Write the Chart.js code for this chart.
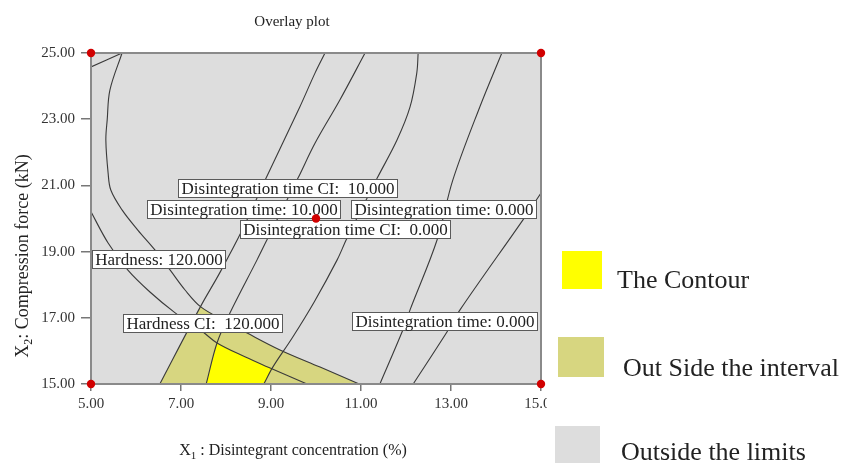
<!DOCTYPE html>
<html>
<head>
<meta charset="utf-8">
<script src="https://cdn.jsdelivr.net/npm/chart.js@4.4.1/dist/chart.umd.min.js"></script>
<style>
  html, body { margin: 0; padding: 0; background: #fff; }
  #wrap { width: 847px; height: 463px; position: relative; }
</style>
</head>
<body>
<div id="wrap"><canvas id="overlay"></canvas></div>
<script>
// Factor ranges (X1 disintegrant %, X2 compression force kN)
const xRange = [5, 15];
const yRange = [15, 25];
const tickStep = 2;

// Design points: factorial corners and centre point
const designX = [5, 15, 5, 15, 10];
const designY = [25, 25, 15, 15, 20];

// Contour lines as [X1, X2] pairs
const hardnessCorner = [[5.0, 24.58], [5.69, 25]];
const hardness120 = [[5.69, 25], [5.42, 23.88], [5.36, 22.98], [5.33, 22.37], [5.38, 21.38], [5.44, 20.86],
  [5.69, 20.26], [6.04, 19.65], [6.42, 19.05], [6.76, 18.44], [7.09, 17.84], [7.44, 17.33], [7.98, 16.90],
  [8.47, 16.54], [9.20, 16.03], [10.09, 15.51], [10.96, 15]];
const hardnessCI120 = [[5.0, 20.20], [5.38, 19.26], [5.82, 18.44], [6.31, 17.78], [6.87, 17.15], [7.49, 16.57],
  [7.80, 16.24], [8.42, 15.82], [8.98, 15.48], [9.80, 15]];
const disintegration10 = [[10.2, 25], [9.98, 24.40], [9.64, 23.37], [8.87, 21.16], [8.36, 19.65], [7.87, 18.38],
  [7.43, 17.33], [6.53, 15]];
const disintegrationCI10 = [[11.09, 25], [10.53, 23.58], [9.98, 22.28], [9.60, 21.22], [8.93, 19.41], [8.69, 18.75],
  [8.09, 17.15], [7.80, 16.24], [7.56, 15]];
const disintegrationCI0 = [[12.27, 25], [12.24, 24.40], [12.09, 23.37], [11.80, 22.37], [11.36, 21.22], [10.69, 19.41],
  [10.47, 18.75], [9.96, 17.48], [9.47, 16.39], [9.04, 15.51], [8.84, 15]];
const disintegration0 = [[14.13, 25], [13.64, 23.37], [13.04, 21.16], [12.69, 19.35], [12.09, 17.24], [11.93, 16.63],
  [11.42, 15]];
const disintegration0b = [[15, 20.77], [14.60, 19.96], [13.20, 17.24], [12.91, 16.57], [12.16, 15]];

// Shaded regions
const intervalRegion = [[6.53, 15], [7.43, 17.33], [7.98, 16.90], [8.47, 16.54], [9.20, 16.03], [10.09, 15.51],
  [10.96, 15], [6.53, 15]];
const contourRegion = [[7.56, 15], [7.80, 16.24], [8.42, 15.82], [9.02, 15.46], [8.84, 15], [7.56, 15]];

// Contour value labels placed on their lines
const contourLabels = [
  { text: 'Disintegration time CI:  10.000', x: 9.378, y: 20.906 },
  { text: 'Disintegration time: 10.000', x: 8.411, y: 20.287 },
  { text: 'Disintegration time: 0.000', x: 12.844, y: 20.287 },
  { text: 'Disintegration time CI:  0.000', x: 10.656, y: 19.668 },
  { text: 'Hardness: 120.000', x: 6.522, y: 18.776 },
  { text: 'Hardness CI:  120.000', x: 7.478, y: 16.813 },
  { text: 'Disintegration time: 0.000', x: 12.867, y: 16.888 }
];

const legendNames = ['The Contour', 'Out Side the interval', 'Outside the limits'];

const SERIF = '"Liberation Serif", "Times New Roman", serif';
const COL_LIMITS = 'rgb(221,221,221)';
const COL_INTERVAL = 'rgb(215,214,128)';
const COL_CONTOUR = '#ffff00';
const legendColors = [COL_CONTOUR, COL_INTERVAL, COL_LIMITS];

const pts = arr => arr.map(([x, y]) => ({ x, y }));
const contourLine = (label, arr) => ({
  label, data: pts(arr), borderColor: '#3a3a3a', borderWidth: 1.1,
  pointRadius: 0, tension: 0.35, fill: false
});
const region = (label, arr, color) => ({
  label, data: pts(arr), fill: 'shape', backgroundColor: color,
  borderColor: 'rgba(0,0,0,0)', borderWidth: 0, pointRadius: 0, tension: 0
});

// Draws text with subscript segments, centred on (cx, y)
function drawSubscripted(ctx, parts, cx, y, size) {
  const fontFor = p => `${p.sub ? Math.round(size * 0.68) : size}px ${SERIF}`;
  let total = 0;
  parts.forEach(p => { ctx.font = fontFor(p); total += ctx.measureText(p.t).width; });
  let x = cx - total / 2;
  ctx.textAlign = 'left';
  ctx.textBaseline = 'alphabetic';
  parts.forEach(p => {
    ctx.font = fontFor(p);
    ctx.fillText(p.t, x, p.sub ? y + size * 0.22 : y);
    x += ctx.measureText(p.t).width;
  });
}

const overlayDecor = {
  id: 'overlayDecor',
  beforeDraw(chart) {
    const { ctx, chartArea: a } = chart;
    ctx.save();
    ctx.fillStyle = '#fff';
    ctx.fillRect(0, 0, chart.width, chart.height);
    ctx.fillStyle = COL_LIMITS;
    ctx.fillRect(a.left, a.top, a.right - a.left, a.bottom - a.top);
    ctx.restore();
  },
  afterDatasetDraw(chart, args) {
    if (args.index !== 1) return;
    const { ctx, chartArea: a } = chart;
    const xs = chart.scales.x, ys = chart.scales.y;
    ctx.save();
    // plot frame
    ctx.strokeStyle = '#8a8a8a';
    ctx.lineWidth = 2;
    ctx.strokeRect(a.left, a.top, a.right - a.left, a.bottom - a.top);
    // contour labels
    ctx.font = `17px ${SERIF}`;
    ctx.textAlign = 'center';
    ctx.textBaseline = 'middle';
    contourLabels.forEach(L => {
      const cx = xs.getPixelForValue(L.x), cy = ys.getPixelForValue(L.y);
      const w = Math.round(ctx.measureText(L.text).width + 7), h = 19;
      const left = Math.round(cx - w / 2), top = Math.round(cy - h / 2);
      ctx.fillStyle = '#fff';
      ctx.fillRect(left, top, w, h);
      ctx.strokeStyle = '#5a5a5a';
      ctx.lineWidth = 1;
      ctx.strokeRect(left + 0.5, top + 0.5, w - 1, h - 1);
      ctx.fillStyle = '#222';
      ctx.fillText(L.text, left + w / 2, top + h / 2 + 1);
    });
    ctx.restore();
  },
  afterDraw(chart) {
    const { ctx } = chart;
    ctx.save();
    ctx.fillStyle = '#222';
    // title
    ctx.font = `15px ${SERIF}`;
    ctx.textAlign = 'center';
    ctx.textBaseline = 'alphabetic';
    ctx.fillText('Overlay plot', 292, 26);
    // axis titles
    drawSubscripted(ctx, [{ t: 'X' }, { t: '1', sub: true }, { t: ' : Disintegrant concentration (%)' }], 293, 455, 16);
    ctx.save();
    ctx.translate(28, 256);
    ctx.rotate(-Math.PI / 2);
    drawSubscripted(ctx, [{ t: 'X' }, { t: '2', sub: true }, { t: ': Compression force (kN)' }], 0, 0, 18);
    ctx.restore();
    // legend panel
    ctx.fillStyle = '#fff';
    ctx.fillRect(547, 390, chart.width - 547, 30);
    const boxes = [[562, 251, 40, 38], [558, 337, 46, 40], [555, 426, 45, 40]];
    const textPos = [[617, 288], [623, 376], [621, 460]];
    ctx.font = `26px ${SERIF}`;
    ctx.textAlign = 'left';
    legendNames.forEach((name, i) => {
      const [bx, by, bw, bh] = boxes[i];
      ctx.fillStyle = legendColors[i];
      ctx.fillRect(bx, by, bw, bh);
      ctx.fillStyle = '#222';
      ctx.fillText(name, textPos[i][0], textPos[i][1]);
    });
    ctx.restore();
  }
};

const tickFont = { family: SERIF, size: 15 };

new Chart(document.getElementById('overlay'), {
  type: 'line',
  data: {
    datasets: [
      {
        label: 'Design points', data: designX.map((x, i) => ({ x, y: designY[i] })),
        showLine: false, pointRadius: 4.2, pointBackgroundColor: '#d10000', pointBorderWidth: 0, clip: false
      },
      contourLine('Hardness: 120.000', hardness120),
      contourLine('Hardness', hardnessCorner),
      contourLine('Hardness CI: 120.000', hardnessCI120),
      contourLine('Disintegration time: 10.000', disintegration10),
      contourLine('Disintegration time CI: 10.000', disintegrationCI10),
      contourLine('Disintegration time CI: 0.000', disintegrationCI0),
      contourLine('Disintegration time: 0.000', disintegration0),
      contourLine('Disintegration time: 0.000 (b)', disintegration0b),
      region('The Contour', contourRegion, COL_CONTOUR),
      region('Out Side the interval', intervalRegion, COL_INTERVAL)
    ]
  },
  options: {
    responsive: true,
    maintainAspectRatio: false,
    animation: false,
    devicePixelRatio: 1,
    layout: { padding: { top: 53, right: 306, left: 0, bottom: 0 } },
    plugins: { legend: { display: false }, tooltip: { enabled: false } },
    scales: {
      x: {
        type: 'linear', min: xRange[0], max: xRange[1],
        afterFit(s) { s.height = 79; },
        ticks: { stepSize: tickStep, callback: v => v.toFixed(2), font: tickFont, color: '#333', padding: 4, maxRotation: 0, autoSkip: false },
        grid: { drawOnChartArea: false, drawTicks: true, tickLength: 7, color: '#777', lineWidth: 1.5 },
        border: { display: false }
      },
      y: {
        type: 'linear', min: yRange[0], max: yRange[1],
        afterFit(s) { s.width = 91; },
        ticks: { stepSize: tickStep, callback: v => v.toFixed(2), font: tickFont, color: '#333', padding: 6, autoSkip: false },
        grid: { drawOnChartArea: false, drawTicks: true, tickLength: 10, color: '#777', lineWidth: 1.5 },
        border: { display: false }
      }
    }
  },
  plugins: [overlayDecor]
});
</script>
</body>
</html>
